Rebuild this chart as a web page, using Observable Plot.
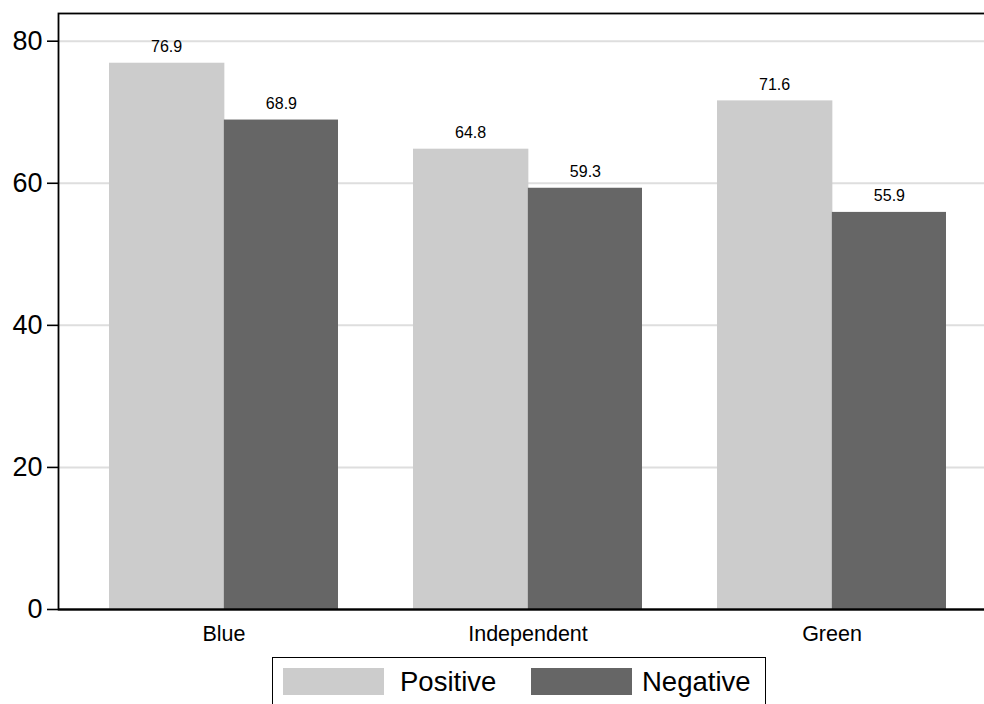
<!DOCTYPE html>
<html>
<head>
<meta charset="utf-8">
<script src="https://cdn.jsdelivr.net/npm/d3@7"></script>
<script src="https://cdn.jsdelivr.net/npm/@observablehq/plot@0.6"></script>
<style>
  html, body { margin: 0; padding: 0; background: #fff; overflow: hidden; width: 984px; height: 704px; }
  body { font-family: "Liberation Sans", Arial, sans-serif; position: relative; }
  #chart { position: absolute; left: 0; top: 0; width: 990px; }
  #chart svg { max-width: none !important; }
  #legend { position: absolute; left: 272px; top: 657px; width: 494px; height: 60px; border: 1.5px solid #000; box-sizing: border-box; }
  .sw { position: absolute; top: 10px; width: 101px; height: 27px; }
  .lt { position: absolute; top: 9px; font-size: 27.5px; line-height: 29px; color: #000; }
</style>
</head>
<body>
<div id="chart"></div>
<div id="legend"></div>
<script>
const parties = ["Blue", "Independent", "Green"];
const positive = [76.9, 64.8, 71.6];
const negative = [68.9, 59.3, 55.9];
const seriesNames = ["Positive", "Negative"];
const seriesColors = ["#cccccc", "#666666"];
const yTicks = [0, 20, 40, 60, 80];

const posData = parties.map((p, i) => ({party: p, value: positive[i]}));
const negData = parties.map((p, i) => ({party: p, value: negative[i]}));

const half = 114.85;
const font = "Liberation Sans, Arial, sans-serif";

const chart = Plot.plot({
  width: 990,
  height: 650,
  marginLeft: 58,
  marginRight: 0,
  marginTop: 13,
  marginBottom: 41,
  style: {fontFamily: font, background: "#fff", color: "#000", maxWidth: "none"},
  x: {domain: parties, range: [107.7, 946.7], paddingInner: 0.246, paddingOuter: 0, label: null},
  y: {domain: [0, 83.9], label: null},
  marks: [
    Plot.gridY(yTicks, {stroke: "#dedede", strokeOpacity: 1, strokeWidth: 2}),
    Plot.barY(posData, {x: "party", y: "value", fill: seriesColors[0], insetRight: half - 1.2}),
    Plot.barY(negData, {x: "party", y: "value", fill: seriesColors[1], insetLeft: half}),
    Plot.text(posData, {x: "party", y: "value", text: d => d.value.toFixed(1), dx: -half / 2, dy: -11, lineAnchor: "bottom", fontSize: 16, fill: "#000"}),
    Plot.text(negData, {x: "party", y: "value", text: d => d.value.toFixed(1), dx: half / 2, dy: -11, lineAnchor: "bottom", fontSize: 16, fill: "#000"}),
    Plot.frame({stroke: "#000", strokeWidth: 1.8}),
    Plot.ruleY([0], {stroke: "#000", strokeWidth: 2}),
    Plot.axisY({ticks: yTicks, tickSize: 11, tickPadding: 5, fontSize: 27, strokeWidth: 1.6, label: null}),
    Plot.axisX({tickSize: 0, tickPadding: 16, fontSize: 21.5, label: null})
  ]
});
chart.style.maxWidth = "none";
chart.setAttribute("width", 990);
document.getElementById("chart").appendChild(chart);

const legend = document.getElementById("legend");
const items = [
  {sw: 10, tx: 127},
  {sw: 258, tx: 369}
];
seriesNames.forEach((name, i) => {
  const s = document.createElement("div");
  s.className = "sw";
  s.style.left = items[i].sw + "px";
  s.style.background = seriesColors[i];
  legend.appendChild(s);
  const t = document.createElement("div");
  t.className = "lt";
  t.style.left = items[i].tx + "px";
  t.textContent = name;
  legend.appendChild(t);
});
</script>
</body>
</html>
